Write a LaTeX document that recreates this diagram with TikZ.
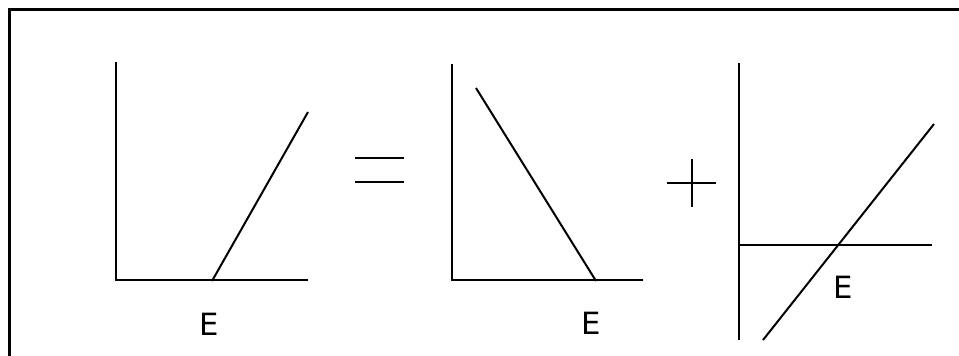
\documentclass[tikz,border=0pt]{standalone}
\usepackage{fontspec}
\setmainfont{DejaVu Sans}
\usepackage{tikz}
\tikzset{
  curve/.style={line width=1.5pt},
  lbl/.style={font=\fontsize{23}{26}\selectfont, inner sep=0pt}
}

\begin{document}
\begin{tikzpicture}[x=0.75pt,y=-0.75pt]
\useasboundingbox (0,0) rectangle (959,356);
% frame, open to the right and below
\draw[line width=2.25pt] (9,360) -- (9,10) -- (963,10);
% (a) left panel
\begin{scope}
\draw[curve] (116,62) -- (116,280) -- (308,280);
\draw[curve] (212,281) -- (308,112);
\node[lbl] (ea) at (209,324) {E};
\end{scope}
% equals sign
\draw[curve] (355,158) -- (404,158);
\draw[curve] (355,182) -- (404,182);
% (b) middle panel
\begin{scope}
\draw[curve] (452,64) -- (452,280) -- (643,280);
\draw[curve] (476,88) -- (596,281);
\node[lbl] (eb) at (591,323) {E};
\end{scope}
% plus sign
\draw[curve] (667,183) -- (716,183);
\draw[curve] (692,159) -- (692,207);
% (c) right panel
\begin{scope}
\draw[curve] (739,63) -- (739,340);
\draw[curve] (739,245) -- (932,245);
\draw[curve] (763,340) -- (934,124);
\node[lbl] (ec) at (843,287) {E};
\end{scope}
\end{tikzpicture}
\end{document}
